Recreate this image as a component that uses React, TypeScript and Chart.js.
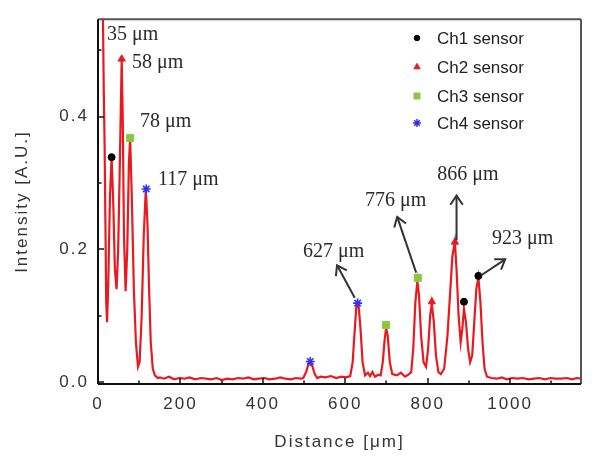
import React, { useEffect, useRef } from 'react';
import { Chart, registerables } from 'chart.js';
import { drawPoint } from 'chart.js/helpers';

Chart.register(...registerables);

// ---- trace (Distance µm, Intensity A.U.) ----
const TRACE_X = [
  10, 12, 14, 16, 18, 20, 22, 25, 29, 33, 37, 41, 45, 49, 53, 57.5, 60, 63, 67, 71, 75, 78, 82, 87, 92, 97,
  101, 106, 111, 116, 120, 124, 128, 133, 138, 145,
  150, 160, 172, 185, 198, 210, 222, 236, 250, 262, 275, 288, 300, 314, 326, 340, 352, 365, 378, 390, 404,
  416, 430, 442, 455, 468, 480, 492,
  498, 505, 511, 515, 520, 526, 532,
  540, 552, 565, 578, 590, 602, 612,
  618, 622, 627, 632, 637, 642, 648, 655, 660, 666, 672, 680,
  686, 691, 695, 699, 703, 708, 714, 725, 735, 745, 755,
  760, 765, 770, 775, 779, 784, 790, 796, 801, 806, 810, 815, 820, 826, 832, 840, 848, 855, 860, 866, 870,
  875, 880, 884, 888, 893, 898, 903, 908, 913, 918, 923, 928, 933, 938, 944,
  955, 968, 980, 992, 1005, 1018, 1030, 1045, 1058, 1070, 1085, 1098, 1110, 1124, 1138, 1150, 1162, 1172,
];
const TRACE_Y = [
  0.62, 0.55, 0.44, 0.36, 0.24, 0.12, 0.09, 0.15, 0.28, 0.339, 0.27, 0.17, 0.14, 0.2, 0.33, 0.487, 0.4, 0.22, 0.137, 0.2, 0.33, 0.368, 0.28, 0.14, 0.06, 0.023,
  0.03, 0.1, 0.22, 0.291, 0.24, 0.14, 0.06, 0.02, 0.01, 0.006,
  0.007, 0.005, 0.008, 0.004, 0.006, 0.005, 0.007, 0.004, 0.006, 0.005, 0.004, 0.006, 0.003, 0.005, 0.004, 0.006, 0.005, 0.007, 0.004, 0.005, 0.006,
  0.004, 0.005, 0.007, 0.005, 0.004, 0.006, 0.005,
  0.006, 0.015, 0.028, 0.031, 0.024, 0.012, 0.006,
  0.008, 0.007, 0.009, 0.006, 0.008, 0.007, 0.009,
  0.03, 0.07, 0.115, 0.118, 0.08, 0.03, 0.01, 0.014, 0.009, 0.015, 0.008, 0.011,
  0.01, 0.03, 0.06, 0.082, 0.07, 0.03, 0.012, 0.01, 0.014, 0.008, 0.012,
  0.015, 0.05, 0.12, 0.152, 0.13, 0.07, 0.03, 0.023, 0.05, 0.1, 0.118, 0.09, 0.04, 0.015, 0.012, 0.02, 0.07, 0.14, 0.19, 0.211, 0.17,
  0.1, 0.06, 0.08, 0.11, 0.09, 0.05, 0.03, 0.04, 0.09, 0.14, 0.158, 0.12, 0.06, 0.02, 0.008,
  0.006, 0.005, 0.007, 0.004, 0.006, 0.005, 0.006, 0.004, 0.005, 0.006, 0.004, 0.006, 0.005, 0.005, 0.006, 0.004, 0.006, 0.005,
];

// ---- sensor markers ----
const CH1_X = [33, 888, 923];
const CH1_Y = [0.339, 0.121, 0.16];
const CH2_X = [57.5, 810, 866];
const CH2_Y = [0.487, 0.121, 0.211];
const CH3_X = [78, 699, 776];
const CH3_Y = [0.368, 0.086, 0.157];
const CH4_X = [117, 515, 630];
const CH4_Y = [0.291, 0.031, 0.119];

const SERIES_NAMES = ['Ch1 sensor', 'Ch2 sensor', 'Ch3 sensor', 'Ch4 sensor'];

// ---- ticks ----
const X_MAJOR = [0, 200, 400, 600, 800, 1000];
const X_MINOR = [100, 300, 500, 700, 900, 1100];
const Y_MAJOR = [0, 0.2, 0.4];
const Y_MINOR = [0.1, 0.3, 0.5];

// ---- peak annotations ----
const PEAK_LABELS = ['35 μm', '58 μm', '78 μm', '117 μm', '627 μm', '776 μm', '866 μm', '923 μm'];
const LABEL_X = [21.8, 82.5, 102, 145.6, 497.6, 648, 823, 956];
const LABEL_Y = [0.524, 0.482, 0.393, 0.305, 0.196, 0.274, 0.3125, 0.216];
const ARROW_FROM_X = [623, 772, 870, 930];
const ARROW_FROM_Y = [0.127, 0.165, 0.214, 0.161];
const ARROW_TO_X = [580, 726, 870, 988];
const ARROW_TO_Y = [0.176, 0.249, 0.281, 0.185];

const RED = 'rgb(232,26,32)';
const GREEN = '#8cc63f';
const BLUE = 'rgb(50,50,240)';
const SANS = '"Liberation Sans", Arial, sans-serif';
const SERIF = '"Liberation Serif", "Times New Roman", serif';

const pts = (xs: number[], ys: number[]) => xs.map((x, i) => ({ x, y: ys[i] }));

const MARKERS = [
  { style: 'circle', color: '#000', r: 3.5, lr: 2.8 },
  { style: 'triangle', color: RED, r: 4.2, lr: 3.6 },
  { style: 'rect', color: GREEN, r: 5, lr: 4.2 },
  { style: 'star', color: BLUE, r: 4.5, lr: 4 },
];

const overlay = {
  id: 'overlay',
  beforeDraw(chart: any) {
    const c = chart.ctx;
    c.save();
    c.fillStyle = '#fff';
    c.fillRect(0, 0, chart.width, chart.height);
    c.restore();
    c.letterSpacing = '2px';
  },
  beforeDatasetsDraw(chart: any) {
    chart.ctx.letterSpacing = '0px';
  },
  afterDraw(chart: any) {
    const c = chart.ctx;
    const { left, right, top, bottom } = chart.chartArea;
    const xs = chart.scales.x;
    const ys = chart.scales.y;
    c.save();
    c.letterSpacing = '0px';
    const line = (x1: number, y1: number, x2: number, y2: number) => {
      c.beginPath();
      c.moveTo(x1, y1);
      c.lineTo(x2, y2);
      c.stroke();
    };
    // inward ticks
    c.strokeStyle = '#111';
    c.lineWidth = 1.5;
    X_MAJOR.forEach((v) => { const p = Math.round(xs.getPixelForValue(v)); line(p, bottom, p, bottom - 6); });
    X_MINOR.forEach((v) => { const p = Math.round(xs.getPixelForValue(v)); line(p, bottom, p, bottom - 3.5); });
    Y_MAJOR.forEach((v) => { const p = Math.round(ys.getPixelForValue(v)); line(left, p, left + 6, p); });
    Y_MINOR.forEach((v) => { const p = Math.round(ys.getPixelForValue(v)); line(left, p, left + 3.5, p); });
    // frame
    c.lineWidth = 2;
    c.strokeStyle = '#555';
    line(left, top, right, top);
    line(right, top, right, bottom);
    c.strokeStyle = '#111';
    line(left, top, left, bottom);
    line(left, bottom, right, bottom);

    // annotations
    c.fillStyle = '#2a2a2a';
    c.font = '20px ' + SERIF;
    c.textAlign = 'left';
    c.textBaseline = 'middle';
    PEAK_LABELS.forEach((t, i) => {
      c.fillText(t, xs.getPixelForValue(LABEL_X[i]), ys.getPixelForValue(LABEL_Y[i]));
    });
    c.strokeStyle = '#333';
    c.lineWidth = 2;
    ARROW_FROM_X.forEach((_, i) => {
      const x1 = xs.getPixelForValue(ARROW_FROM_X[i]);
      const y1 = ys.getPixelForValue(ARROW_FROM_Y[i]);
      const x2 = xs.getPixelForValue(ARROW_TO_X[i]);
      const y2 = ys.getPixelForValue(ARROW_TO_Y[i]);
      line(x1, y1, x2, y2);
      const a = Math.atan2(y2 - y1, x2 - x1);
      const h = 11;
      const w = 0.6;
      c.beginPath();
      c.moveTo(x2 - h * Math.cos(a - w), y2 - h * Math.sin(a - w));
      c.lineTo(x2, y2);
      c.lineTo(x2 - h * Math.cos(a + w), y2 - h * Math.sin(a + w));
      c.stroke();
    });

    // legend
    const lx = 417;
    const tx = 437;
    const rows = [38, 67, 96, 123];
    c.font = '17px ' + SANS;
    c.textBaseline = 'middle';
    SERIES_NAMES.forEach((name, i) => {
      const m = MARKERS[i];
      c.fillStyle = m.color;
      c.strokeStyle = m.color;
      c.lineWidth = m.style === 'star' ? 1.5 : 1;
      drawPoint(c, { pointStyle: m.style, radius: m.lr, rotation: 0, borderWidth: c.lineWidth } as any, lx, rows[i]);
      c.fillStyle = '#222';
      c.fillText(name, tx, rows[i] + 1);
    });
    c.restore();
  },
};

export default function App() {
  const ref = useRef<HTMLCanvasElement>(null);
  useEffect(() => {
    const canvas = ref.current;
    if (!canvas) return;
    const markerSet = (xs: number[], ys: number[], i: number) => ({
      label: SERIES_NAMES[i],
      data: pts(xs, ys),
      showLine: false,
      pointStyle: MARKERS[i].style,
      pointRadius: MARKERS[i].r,
      pointBackgroundColor: MARKERS[i].color,
      pointBorderColor: MARKERS[i].color,
      pointBorderWidth: MARKERS[i].style === 'star' ? 1.6 : 1,
      order: 1,
    });
    const chart = new Chart(canvas, {
      type: 'line',
      data: {
        datasets: [
          {
            label: 'trace',
            data: pts(TRACE_X, TRACE_Y),
            borderColor: RED,
            borderWidth: 2.2,
            pointRadius: 0,
            tension: 0,
            fill: false,
            order: 5,
          } as any,
          markerSet(CH1_X, CH1_Y, 0),
          markerSet(CH2_X, CH2_Y, 1),
          markerSet(CH3_X, CH3_Y, 2),
          markerSet(CH4_X, CH4_Y, 3),
        ],
      },
      options: {
        responsive: false,
        animation: false,
        devicePixelRatio: 1,
        layout: { padding: { top: 14, right: 23, left: 0, bottom: 0 } },
        plugins: { legend: { display: false }, tooltip: { enabled: false } },
        scales: {
          x: {
            type: 'linear',
            min: 0,
            max: 1172,
            afterFit: (s: any) => { s.height = 89; },
            afterBuildTicks: (s: any) => { s.ticks = X_MAJOR.map((v) => ({ value: v })); },
            grid: { display: false, drawTicks: false },
            border: { display: false },
            ticks: {
              padding: 10,
              maxRotation: 0,
              autoSkip: false,
              color: '#333',
              font: { family: SANS, size: 17 },
              callback: (v: any) => String(v),
            },
            title: {
              display: true,
              text: 'Distance [μm]',
              color: '#333',
              font: { family: SANS, size: 17 },
              padding: { top: 0, bottom: 20 },
            },
          },
          y: {
            type: 'linear',
            min: -0.003,
            max: 0.547,
            afterFit: (s: any) => { s.width = 98; },
            afterBuildTicks: (s: any) => { s.ticks = Y_MAJOR.map((v) => ({ value: v })); },
            grid: { display: false, drawTicks: false },
            border: { display: false },
            ticks: {
              padding: 9,
              color: '#333',
              font: { family: SANS, size: 17 },
              callback: (v: any) => Number(v).toFixed(1),
            },
            title: {
              display: true,
              text: 'Intensity [A.U.]',
              color: '#333',
              font: { family: SANS, size: 17 },
              padding: { top: 12, bottom: 0 },
            },
          },
        },
      } as any,
      plugins: [overlay],
    });
    return () => chart.destroy();
  }, []);
  return (
    <div style={{ position: 'fixed', left: 0, top: 0, width: 604, height: 473, background: '#fff' }}>
      <canvas ref={ref} width={604} height={473} style={{ display: 'block' }} />
    </div>
  );
}
